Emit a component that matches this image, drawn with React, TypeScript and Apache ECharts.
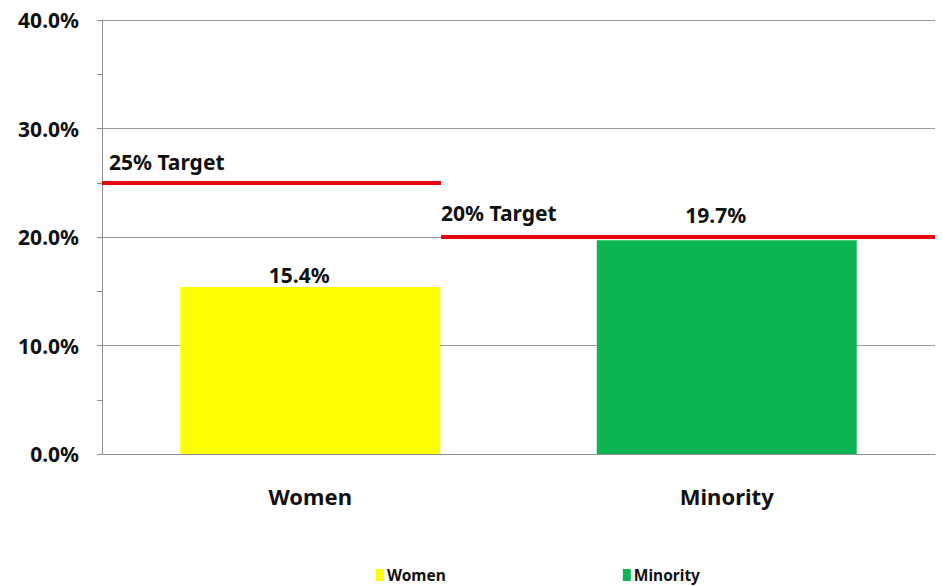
import React, { useEffect, useRef } from "react";
import * as echarts from "echarts";

const categories = ["Women", "Minority"];
const womenValues = [15.4, "-"];
const minorityValues = ["-", 19.7];
const yTicks = { min: 0, max: 40, interval: 10 };
// target lines: value, label, horizontal span as % of plot width
const targetLabels = ["25% Target", "20% Target"];
const targetValues = [25, 20];
const targetSpans = [
  [0, 40.7],
  [40.7, 100],
];

const FONT = "'Noto Sans', sans-serif";

export default function App() {
  const ref = useRef<HTMLDivElement>(null);
  useEffect(() => {
    if (!ref.current) return;
    const chart = echarts.init(ref.current, undefined, { renderer: "svg" });
    const valueLabel = {
      show: true,
      position: "top",
      fontSize: 21,
      fontWeight: "bold",
      color: "#111",
      fontFamily: FONT,
      offset: [-11, 0],
      formatter: (p: any) => p.value + "%",
    };
    const option: any = {
      animation: false,
      backgroundColor: "#ffffff",
      textStyle: { fontFamily: FONT },
      grid: { left: 102, right: 7, top: 20, bottom: 132, containLabel: false },
      legend: {
        data: categories,
        left: 371,
        top: 562,
        itemWidth: 8,
        itemHeight: 12,
        itemGap: 177,
        icon: "rect",
        textStyle: { fontFamily: FONT, fontSize: 15.5, fontWeight: "bold", color: "#111", padding: [0, 0, 0, -2] },
      },
      xAxis: [
        {
          type: "category",
          data: categories,
          axisLine: { show: true, lineStyle: { color: "#8c8c8c", width: 1 } },
          axisTick: { show: false },
          axisLabel: { margin: 31, fontSize: 22, fontWeight: "bold", color: "#111", fontFamily: FONT },
        },
        { type: "value", min: 0, max: 100, show: false },
      ],
      yAxis: {
        type: "value",
        min: yTicks.min,
        max: yTicks.max,
        interval: yTicks.interval,
        axisLine: { show: true, lineStyle: { color: "#8c8c8c", width: 1 } },
        axisTick: { show: true, length: 5, lineStyle: { color: "#8c8c8c" } },
        minorTick: { show: true, splitNumber: 2, length: 5, lineStyle: { color: "#8c8c8c" } },
        splitLine: { show: true, lineStyle: { color: "#9a9a9a", width: 1 } },
        axisLabel: {
          margin: 23,
          fontSize: 21,
          fontWeight: "bold",
          color: "#111",
          fontFamily: FONT,
          formatter: (v: number) => v.toFixed(1) + "%",
        },
      },
      series: [
        {
          name: "Women",
          type: "bar",
          data: womenValues,
          barWidth: 260,
          barGap: "-100%",
          itemStyle: { color: "#ffff00" },
          label: { ...valueLabel, distance: 1 },
        },
        {
          name: "Minority",
          type: "bar",
          data: minorityValues,
          barWidth: 260,
          barGap: "-100%",
          itemStyle: { color: "#0cb552" },
          label: { ...valueLabel, distance: 15 },
        },
        {
          name: "Targets",
          type: "line",
          xAxisIndex: 1,
          data: [],
          silent: true,
          markLine: {
            symbol: ["none", "none"],
            silent: true,
            lineStyle: { color: "#e8060c", width: 4, type: "solid" },
            label: {
              show: true,
              position: "insideStartTop",
              fontSize: 21,
              fontWeight: "bold",
              color: "#111",
              fontFamily: FONT,
            },
            data: targetValues.map((v, i) => [
              {
                coord: [targetSpans[i][0], v],
                label: { formatter: targetLabels[i], distance: i === 0 ? [7, 10] : [0, 14] },
              },
              { coord: [targetSpans[i][1], v] },
            ]),
          },
        },
      ],
    };
    chart.setOption(option);
    return () => chart.dispose();
  }, []);
  return <div ref={ref} style={{ width: 942, height: 586, position: "absolute", left: 0, top: 0 }} />;
}
